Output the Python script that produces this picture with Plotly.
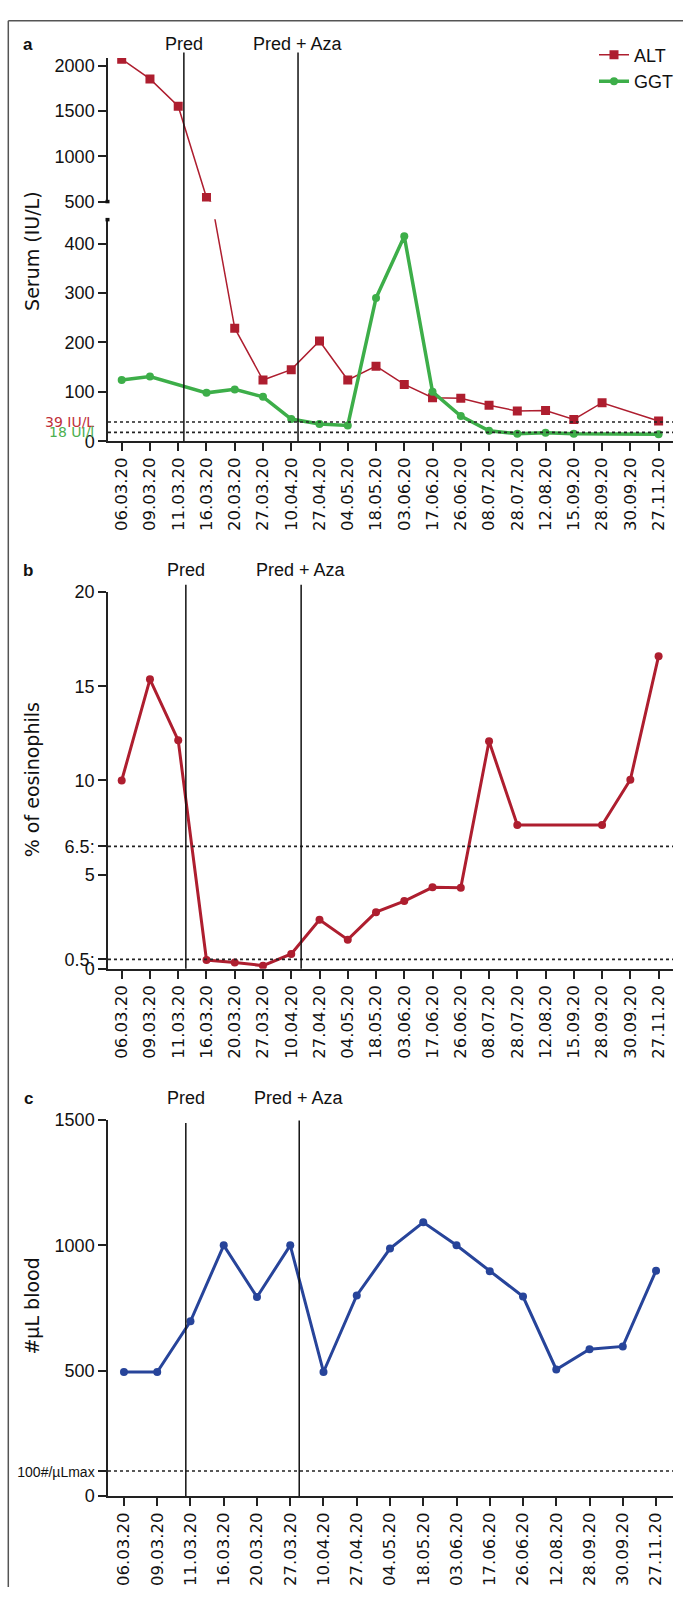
import plotly.graph_objects as go

# ---------------- data ----------------
dates_ab = ["06.03.20", "09.03.20", "11.03.20", "16.03.20", "20.03.20", "27.03.20",
            "10.04.20", "27.04.20", "04.05.20", "18.05.20", "03.06.20", "17.06.20",
            "26.06.20", "08.07.20", "28.07.20", "12.08.20", "15.09.20", "28.09.20",
            "30.09.20", "27.11.20"]
alt = [2073, 1855, 1553, 544, 229, 124, 145, 203, 124, 152, 115, 88, 87, 73, 61, 62, 44, 78, None, 41]
ggt = [124, 131, None, 98, 105, 90, 45, 35, 32, 290, 415, 100, 51, 21, 15, 17, 15, None, None, 14]
eos = [10.0, 15.37, 12.13, 0.47, 0.34, 0.17, 0.79, 2.6, 1.55, 3.01, 3.6, 4.33, 4.31, 12.08,
       7.64, None, None, 7.64, 10.04, 16.6]

dates_c = ["06.03.20", "09.03.20", "11.03.20", "16.03.20", "20.03.20", "27.03.20",
           "10.04.20", "27.04.20", "04.05.20", "18.05.20", "03.06.20", "17.06.20",
           "26.06.20", "12.08.20", "28.09.20", "30.09.20", "27.11.20"]
cells = [495, 495, 697, 1000, 794, 1000, 495, 800, 987, 1092, 1000, 897, 796, 505, 586, 597, 899]

alt_ref, ggt_ref = 39, 18
eos_refs = [6.5, 0.5]
cells_ref = 100

# treatment start positions (in category index units) per panel
pred_a, aza_a = 2.2, 6.24
pred_b, aza_b = 2.27, 6.35
pred_c, aza_c = 1.86, 5.27

RED = "#AE1E2F"
GREEN = "#3DAE49"
BLUE = "#27449A"
AX = "#222222"
FONT = "Liberation Sans, Arial, sans-serif"
WIDE = "DejaVu Sans, Liberation Sans, sans-serif"

W, H = 683, 1597


def py(px):
    return 1 - px / H


def pxx(px):
    return px / W


fig = go.Figure()

# panel a
fig.add_trace(go.Scatter(x=dates_ab, y=alt, name="ALT", mode="lines+markers", connectgaps=True,
                         line=dict(color=RED, width=1.5),
                         marker=dict(symbol="square", size=9, color=RED),
                         xaxis="x", yaxis="y", legendgroup="alt"))
fig.add_trace(go.Scatter(x=dates_ab, y=ggt, name="GGT", mode="lines+markers", connectgaps=True,
                         line=dict(color=GREEN, width=3.5),
                         marker=dict(symbol="circle", size=8, color=GREEN),
                         xaxis="x", yaxis="y", legendgroup="ggt"))
fig.add_trace(go.Scatter(x=dates_ab, y=alt, name="ALT", mode="lines+markers", connectgaps=True,
                         line=dict(color=RED, width=1.5),
                         marker=dict(symbol="square", size=9, color=RED),
                         xaxis="x2", yaxis="y2", legendgroup="alt", showlegend=False))
# panel b
fig.add_trace(go.Scatter(x=dates_ab, y=eos, mode="lines+markers", connectgaps=True,
                         line=dict(color=RED, width=3),
                         marker=dict(symbol="circle", size=8, color=RED),
                         xaxis="x3", yaxis="y3", showlegend=False))
# panel c
fig.add_trace(go.Scatter(x=dates_c, y=cells, mode="lines+markers",
                         line=dict(color=BLUE, width=3),
                         marker=dict(symbol="circle", size=8, color=BLUE),
                         xaxis="x4", yaxis="y4", showlegend=False))

xdom = [pxx(108), pxx(673)]
axis_common = dict(showline=True, linecolor=AX, linewidth=1.5, ticks="outside", ticklen=8,
                   tickwidth=1.5, tickcolor=AX, showgrid=False, zeroline=False,
                   tickfont=dict(size=18, color="#111", family=FONT))
xcommon = dict(axis_common, type="category", tickangle=-90,
               tickfont=dict(size=16.5, color="#111", family=WIDE))

fig.update_layout(
    width=W, height=H, margin=dict(l=0, r=0, t=0, b=0),
    paper_bgcolor="white", plot_bgcolor="white",
    font=dict(family=FONT, color="#111", size=18),
    showlegend=True,
    legend=dict(x=pxx(594), y=py(27), xanchor="left", yanchor="top", itemwidth=30,
                font=dict(size=18, family=FONT), bgcolor="rgba(0,0,0,0)", tracegroupgap=0),
    xaxis=dict(xcommon, domain=xdom, range=[-0.485, 19.51], categoryarray=dates_ab,
               categoryorder="array", anchor="y"),
    xaxis2=dict(domain=xdom, matches="x", anchor="y2", visible=False, type="category"),
    yaxis=dict(axis_common, domain=[py(436.7), py(212)], range=[0, 449.4],
               tickvals=[0, 100, 200, 300, 400], anchor="x"),
    yaxis2=dict(axis_common, domain=[py(194), py(48.7)], range=[500, 2085],
                tickvals=[500, 1000, 1500, 2000], anchor="x2"),
    xaxis3=dict(xcommon, domain=xdom, range=[-0.485, 19.51], categoryarray=dates_ab,
                categoryorder="array", anchor="y3"),
    yaxis3=dict(axis_common, domain=[py(971), py(589.5)], range=[0, 20],
                tickvals=[0, 0.5, 5, 6.5, 10, 15, 20],
                ticktext=["0", "0.5:", "5", "6.5:", "10", "15", "20"], anchor="x3"),
    xaxis4=dict(xcommon, domain=xdom, range=[-0.48, 16.51], categoryarray=dates_c,
                categoryorder="array", anchor="y4"),
    yaxis4=dict(axis_common, domain=[py(1505), py(1124)], range=[0, 1500],
                tickvals=[0, cells_ref, 500, 1000, 1500],
                ticktext=["0", "<span style='font-size:14px'>100#/µLmax</span>", "500", "1000", "1500"],
                anchor="x4"),
)

shapes = []
dot = dict(color=AX, width=1.6, dash="dot")
# reference lines
for v in (alt_ref, ggt_ref):
    shapes.append(dict(type="line", xref="x domain", yref="y", x0=0, x1=1, y0=v, y1=v, line=dot))
for v in eos_refs:
    shapes.append(dict(type="line", xref="x3 domain", yref="y3", x0=0, x1=1, y0=v, y1=v, line=dot))
shapes.append(dict(type="line", xref="x4 domain", yref="y4", x0=0, x1=1, y0=cells_ref, y1=cells_ref, line=dot))

vl = dict(color="#111", width=1.5)
for xv in (pred_a, aza_a):
    shapes.append(dict(type="line", xref="x", yref="paper", x0=xv, x1=xv, y0=py(436.7), y1=py(43), line=vl))
for xv in (pred_b, aza_b):
    shapes.append(dict(type="line", xref="x3", yref="paper", x0=xv, x1=xv, y0=py(971), y1=py(582), line=vl))
shapes.append(dict(type="line", xref="x4", yref="paper", x0=pred_c, x1=pred_c, y0=py(1505), y1=py(1127), line=vl))
shapes.append(dict(type="line", xref="x4", yref="paper", x0=aza_c, x1=aza_c, y0=py(1505), y1=py(1124.5), line=vl))

# axis break marks
for ypx in (194, 212.3):
    shapes.append(dict(type="line", xref="paper", yref="paper", x0=pxx(105.5), x1=pxx(109.5),
                       y0=py(ypx), y1=py(ypx), line=dict(color="#111", width=3.5)))

# outer frame (left and top)
frame = dict(color="#555", width=1.5)
shapes.append(dict(type="line", xref="paper", yref="paper", x0=pxx(8.3), x1=pxx(8.3), y0=0, y1=py(11), line=frame))
shapes.append(dict(type="line", xref="paper", yref="paper", x0=pxx(8.3), x1=1, y0=py(11), y1=py(11), line=frame))

fig.update_layout(shapes=shapes)

ann = []


def label(text, xref, x, ypx, **kw):
    d = dict(text=text, xref=xref, x=x, yref="paper", y=py(ypx), showarrow=False,
             xanchor="center", yanchor="middle", font=dict(size=18, family=FONT, color="#111"))
    d.update(kw)
    ann.append(d)


label("Pred", "x", pred_a, 34)
label("Pred + Aza", "x", aza_a, 34)
label("Pred", "x3", pred_b, 567.5)
label("Pred + Aza", "x3", aza_b, 567.5)
label("Pred", "x4", pred_c, 1102)
label("Pred + Aza", "x4", aza_c, 1102)

for t, ypx in (("a", 35), ("b", 567.5), ("c", 1102)):
    label("<b>%s</b>" % t, "paper", pxx(28), ypx, font=dict(size=17, family=FONT, color="#111"))

for t, ypx in (("Serum (IU/L)", 245), ("% of eosinophils", 780), ("#µL blood", 1313)):
    label(t, "paper", pxx(32), ypx, textangle=-90, font=dict(size=19, family=WIDE, color="#111"))

ann.append(dict(text="39 IU/L", xref="paper", x=pxx(96), yref="y", y=alt_ref, showarrow=False,
                xanchor="right", yanchor="middle", font=dict(size=14, family=WIDE, color="#C0303A")))
ann.append(dict(text="18 UI/l", xref="paper", x=pxx(96), yref="y", y=ggt_ref, showarrow=False,
                xanchor="right", yanchor="middle", font=dict(size=14, family=WIDE, color="#4CB050")))

fig.update_layout(annotations=ann)

fig.write_html(
    "out.html",
    config={"displayModeBar": False},
    post_script="document.documentElement.style.margin='0';document.body.style.margin='0';"
                "document.body.style.padding='0';document.documentElement.style.overflow='hidden';",
)
